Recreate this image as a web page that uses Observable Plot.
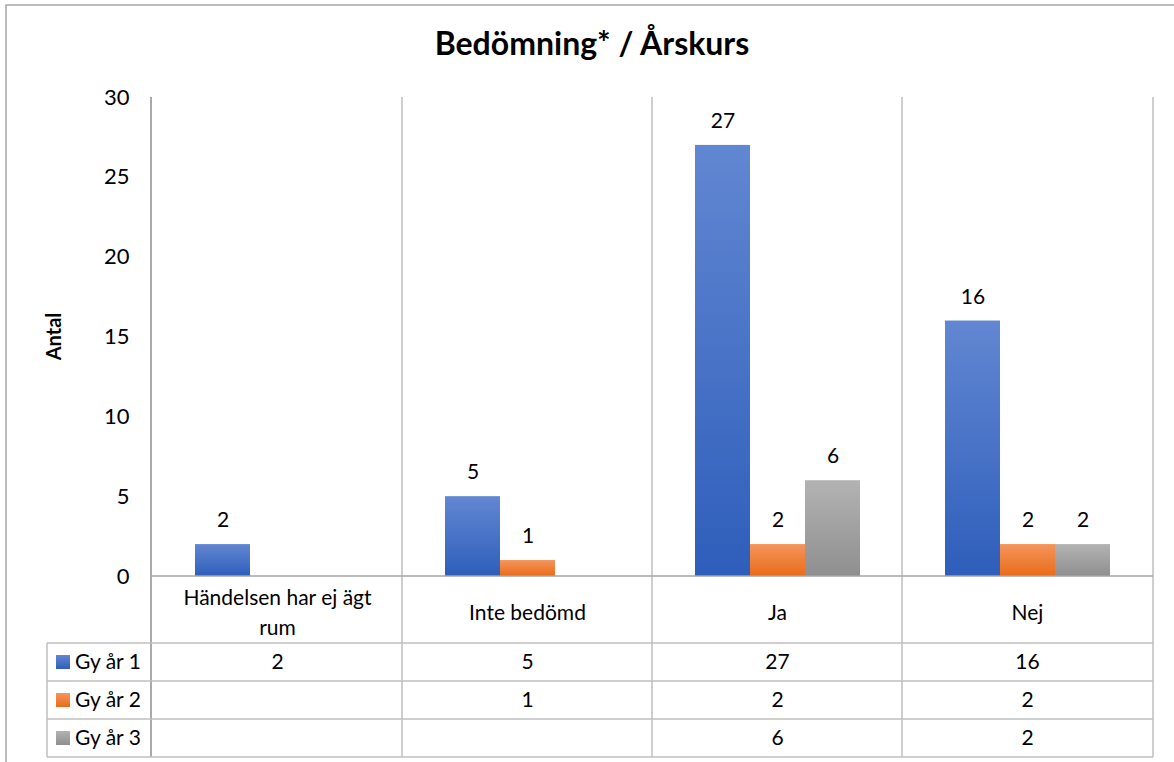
<!DOCTYPE html>
<html><head><meta charset="utf-8">
<script src="https://cdn.jsdelivr.net/npm/d3@7"></script>
<script src="https://cdn.jsdelivr.net/npm/@observablehq/plot@0.6"></script>
<style>body{margin:0;background:#fff;} svg{display:block}</style>
</head><body><div id="chart"></div>
<script>
const title = "Bedömning* / Årskurs";
const yLabel = "Antal";
const categories = ["Händelsen har ej ägt rum", "Inte bedömd", "Ja", "Nej"];
const seriesNames = ["Gy år 1", "Gy år 2", "Gy år 3"];
const gy1 = [2, 5, 27, 16];
const gy2 = [null, 1, 2, 2];
const gy3 = [null, null, 6, 2];
const yTicks = [0, 5, 10, 15, 20, 25, 30];

const seriesValues = [gy1, gy2, gy3];
const gradients = [
  {id: "gBlue", top: "#6287d2", bottom: "#2e5ebb"},
  {id: "gOrange", top: "#f4955c", bottom: "#ea6c18"},
  {id: "gGray", top: "#b3b3b3", bottom: "#8f8f8f"}
];
const rows = seriesNames.flatMap((s, i) => categories.map((c, j) => ({series: s, si: i, category: c, value: seriesValues[i][j]})));
const bars = rows.filter(d => d.value != null);

const FONT = "Lato, 'Open Sans', sans-serif";
const rowH = 38;
const headerH = 67;

const plot = Plot.plot({
  width: 1174, height: 762,
  marginTop: 97, marginBottom: 186, marginLeft: 151, marginRight: 21,
  style: {fontFamily: FONT, fontSize: "21px", color: "#000", background: "white", overflow: "visible"},
  fx: {domain: categories, paddingInner: 0, paddingOuter: 0, axis: null},
  x: {domain: seriesNames, paddingInner: 0, paddingOuter: 0.737, axis: null},
  y: {domain: [0, 30], ticks: yTicks, tickSize: 0, tickPadding: 23, label: null},
  color: {domain: seriesNames, range: gradients.map(g => `url(#${g.id})`)},
  marks: [
    Plot.barY(bars, {fx: "category", x: "series", y: "value", fill: "series"}),
    Plot.text(bars, {fx: "category", x: "series", y: "value", text: d => String(d.value), dy: -24, fill: "#000"}),
    Plot.text(categories, {fx: d => d, text: d => d, frameAnchor: "bottom", lineAnchor: "middle", dy: headerH / 2, lineWidth: 10, lineHeight: 1.43, fill: "#000"}),
    ...seriesNames.map((s, i) => Plot.text(rows.filter(d => d.si === i && d.value != null), {
      fx: "category", text: d => String(d.value), frameAnchor: "bottom", lineAnchor: "middle", dy: headerH + rowH * i + rowH / 2, fill: "#000"
    }))
  ]
});

const svg = d3.select(plot);
svg.selectAll("g[aria-label='y-axis tick label'], g[aria-label='y-axis'] text").attr("font-size", 22);
const fx = plot.scale("fx");
const y = plot.scale("y");
const left = fx.range[0], right = fx.range[1];
const y0 = y.apply(0), yTop = y.apply(30);
const tableTop = y0 + headerH;
const tableBottom = tableTop + rowH * 3;
const labelLeft = 47;

// gradients
const defs = svg.insert("defs", ":first-child");
for (const g of gradients) {
  const lg = defs.append("linearGradient").attr("id", g.id).attr("x1", 0).attr("y1", 0).attr("x2", 0).attr("y2", 1);
  lg.append("stop").attr("offset", "0%").attr("stop-color", g.top);
  lg.append("stop").attr("offset", "100%").attr("stop-color", g.bottom);
}

const deco = svg.append("g").attr("fill", "none");
// outer border
deco.append("rect").attr("x", 6).attr("y", 5).attr("width", 1200).attr("height", 800)
  .attr("stroke", "#a6a6a6").attr("stroke-width", 1.5);
// vertical category lines
for (let k = 1; k <= categories.length; k++) {
  const xk = k < categories.length ? fx.apply(categories[k]) : right;
  deco.append("line").attr("x1", xk).attr("x2", xk).attr("y1", yTop).attr("y2", tableBottom)
    .attr("stroke", "#bfbfbf").attr("stroke-width", 1.5);
}
deco.append("line").attr("x1", left).attr("x2", left).attr("y1", yTop).attr("y2", tableBottom)
  .attr("stroke", "#8c8c8c").attr("stroke-width", 1.5);
// baseline
deco.append("line").attr("x1", left).attr("x2", right).attr("y1", y0).attr("y2", y0)
  .attr("stroke", "#a6a6a6").attr("stroke-width", 1.5);
// table horizontal lines
for (let r = 0; r <= 3; r++) {
  const yr = tableTop + rowH * r;
  deco.append("line").attr("x1", labelLeft).attr("x2", right).attr("y1", yr).attr("y2", yr)
    .attr("stroke", "#bfbfbf").attr("stroke-width", 1.5);
}
deco.append("line").attr("x1", labelLeft).attr("x2", labelLeft).attr("y1", tableTop).attr("y2", tableBottom)
  .attr("stroke", "#bfbfbf").attr("stroke-width", 1.5);

// row labels with swatches
seriesNames.forEach((s, i) => {
  const cy = tableTop + rowH * i + rowH / 2;
  svg.append("rect").attr("x", 56).attr("y", cy - 7).attr("width", 14).attr("height", 14)
    .attr("fill", `url(#${gradients[i].id})`);
  svg.append("text").attr("x", 75).attr("y", cy).attr("dy", "0.35em").attr("text-anchor", "start")
    .attr("font-family", FONT).attr("font-size", 21).attr("fill", "#000").text(s);
});

// title
svg.append("text").attr("x", 592).attr("y", 55).attr("text-anchor", "middle")
  .attr("font-family", FONT).attr("font-weight", "bold").attr("font-size", 32).attr("fill", "#000").text(title);
// y label
svg.append("text").attr("transform", `translate(61,${(y0 + yTop) / 2}) rotate(-90)`).attr("text-anchor", "middle")
  .attr("font-family", FONT).attr("font-weight", "bold").attr("font-size", 20).attr("fill", "#000").text(yLabel);

document.getElementById("chart").appendChild(plot);
</script>
</body></html>
